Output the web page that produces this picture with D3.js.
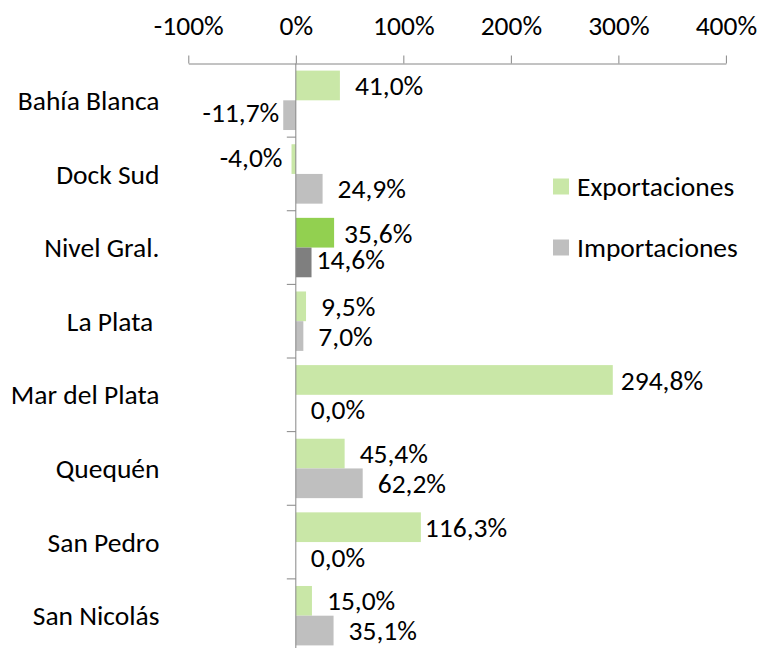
<!DOCTYPE html>
<html>
<head>
<meta charset="utf-8">
<script src="https://cdn.jsdelivr.net/npm/d3@7"></script>
<style>
  html, body { margin: 0; padding: 0; background: #fff; }
  svg { display: block; }
</style>
</head>
<body>
<div id="chart"></div>
<script>
// data
const ports = ["Bahía Blanca", "Dock Sud", "Nivel Gral.", "La Plata ", "Mar del Plata", "Quequén", "San Pedro", "San Nicolás"];
const seriesNames = ["Exportaciones", "Importaciones"];
const exportaciones = [0.410, -0.040, 0.356, 0.095, 2.948, 0.454, 1.163, 0.150];
const importaciones = [-0.117, 0.249, 0.146, 0.070, 0.000, 0.622, 0.000, 0.351];
const xTicks = [-1, 0, 1, 2, 3, 4];
const highlight = "Nivel Gral.";

const width = 759, height = 648;
const fontFamily = "Calibri, Carlito, Lato, sans-serif";
const fontSize = 27.5;

const colors = {
    Exportaciones: "#c9e7a7",
    Importaciones: "#bfbfbf",
    ExportacionesHi: "#92d050",
    ImportacionesHi: "#7f7f7f",
    axis: "#868686",
    text: "#000000"
};

// ajustes manuales de etiquetas (desplazamiento x, y)
const labelNudge = {
    "Bahía Blanca|Importaciones": { dx: 4, dy: -3 },
    "Dock Sud|Exportaciones": { dx: 9, dy: -2 },
    "Nivel Gral.|Exportaciones": { dx: 10, dy: 1 },
    "Nivel Gral.|Importaciones": { dx: 5, dy: -3 },
    "Mar del Plata|Exportaciones": { dx: 8, dy: 0 },
    "San Pedro|Exportaciones": { dx: 4, dy: 0 }
};

const rows = ports.map((p, i) => ({
    port: p,
    values: [
        { series: "Exportaciones", value: exportaciones[i] },
        { series: "Importaciones", value: importaciones[i] }
    ]
}));

const esLocale = d3.formatLocale({ decimal: ",", thousands: ".", grouping: [3], currency: ["", "€"], minus: "-" });
const fmtValue = esLocale.format(".1%");
const fmtTick = esLocale.format(".0%");

const svg = d3.select("#chart").append("svg")
    .attr("width", width)
    .attr("height", height)
    .attr("viewBox", `0 0 ${width} ${height}`);

// escalas
const x = d3.scaleLinear().domain([-1, 4]).range([188.3, 725.9]);
const y0 = d3.scaleBand().domain(ports).range([63.5, 652.5]).paddingInner(0).paddingOuter(0);
const y1 = d3.scaleBand().domain(seriesNames).range([0, y0.bandwidth()]).paddingInner(0).paddingOuter(0.239);

// eje superior
const xAxis = svg.append("g")
    .attr("transform", `translate(0, ${y0.range()[0]})`)
    .call(d3.axisTop(x).tickValues(xTicks).tickFormat(fmtTick).tickSize(8).tickSizeOuter(0).tickPadding(20.5));
xAxis.select(".domain").attr("stroke", colors.axis);
xAxis.selectAll(".tick line").attr("stroke", colors.axis);
xAxis.selectAll(".tick text")
    .attr("fill", colors.text)
    .style("font-family", fontFamily)
    .style("font-size", `${fontSize}px`);

// eje vertical en 0
const axisY = svg.append("g").attr("class", "y-axis");
axisY.append("line")
    .attr("x1", x(0)).attr("x2", x(0))
    .attr("y1", y0.range()[0]).attr("y2", height)
    .attr("stroke", colors.axis);
axisY.selectAll("line.tick")
    .data(ports.slice(1).concat(["__end"]))
    .enter().append("line")
    .attr("class", "tick")
    .attr("x1", x(0) - 9).attr("x2", x(0))
    .attr("y1", d => d === "__end" ? y0.range()[1] : y0(d))
    .attr("y2", d => d === "__end" ? y0.range()[1] : y0(d))
    .attr("stroke", colors.axis);

// etiquetas de categoría
svg.append("g").selectAll("text")
    .data(ports)
    .enter().append("text")
    .attr("x", 159.5)
    .attr("y", d => y0(d) + y0.bandwidth() / 2)
    .attr("dy", "0.35em")
    .attr("text-anchor", "end")
    .attr("fill", colors.text)
    .style("font-family", fontFamily)
    .style("font-size", `${fontSize}px`)
    .style("white-space", "pre")
    .text(d => d);

// barras
const groups = svg.append("g").selectAll("g.port")
    .data(rows)
    .enter().append("g")
    .attr("class", "port")
    .attr("transform", d => `translate(0, ${y0(d.port)})`);

groups.selectAll("rect")
    .data(d => d.values.map(v => ({ ...v, port: d.port })))
    .enter().append("rect")
    .attr("x", d => x(Math.min(0, d.value)))
    .attr("width", d => Math.abs(x(d.value) - x(0)))
    .attr("y", d => y1(d.series))
    .attr("height", y1.bandwidth())
    .attr("fill", d => d.port === highlight ? colors[d.series + "Hi"] : colors[d.series]);

// el eje se dibuja encima de las barras
axisY.raise();

// etiquetas de valor
groups.selectAll("text.value")
    .data(d => d.values.map(v => ({ ...v, port: d.port })))
    .enter().append("text")
    .attr("class", "value")
    .attr("x", d => {
        const n = labelNudge[`${d.port}|${d.series}`];
        const off = n ? n.dx : 15;
        return d.value < 0 ? x(d.value) - off : x(d.value) + off;
    })
    .attr("y", d => {
        const n = labelNudge[`${d.port}|${d.series}`];
        return y1(d.series) + y1.bandwidth() / 2 + (n ? n.dy : 0);
    })
    .attr("dy", "0.35em")
    .attr("text-anchor", d => d.value < 0 ? "end" : "start")
    .attr("fill", colors.text)
    .style("font-family", fontFamily)
    .style("font-size", `${fontSize}px`)
    .text(d => fmtValue(d.value));

// leyenda
const legend = svg.append("g").selectAll("g")
    .data(seriesNames)
    .enter().append("g")
    .attr("transform", (d, i) => `translate(553, ${178.5 + i * 61})`);
legend.append("rect")
    .attr("width", 16).attr("height", 16)
    .attr("fill", d => colors[d]);
legend.append("text")
    .attr("x", 24).attr("y", 8)
    .attr("dy", "0.35em")
    .attr("fill", colors.text)
    .style("font-family", fontFamily)
    .style("font-size", `${fontSize}px`)
    .text(d => d);
</script>
</body>
</html>
